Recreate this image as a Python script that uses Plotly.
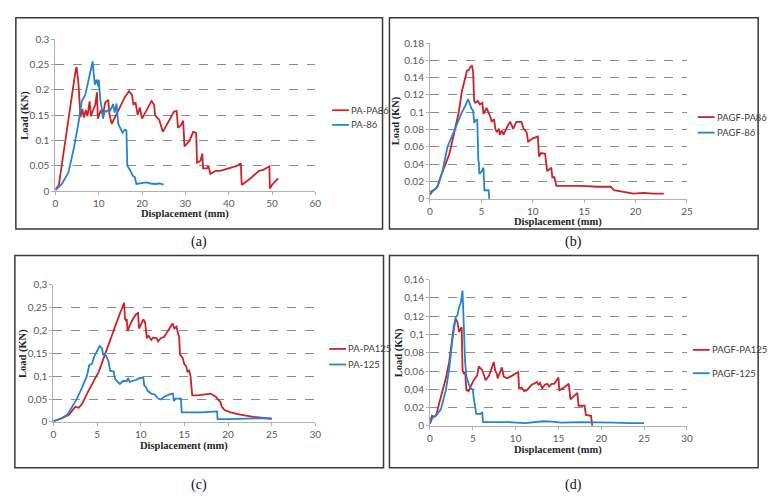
import plotly.graph_objects as go

W, H = 775, 501

# ---------------- DATA ----------------
# (a)
a_pa_pa86_x = [0, 0.8, 4.7, 4.9, 5.3, 5.8, 6.2, 6.6, 7.0, 7.4, 7.9, 8.2, 8.7, 9.2, 9.6, 9.8, 10.5, 11.0, 11.5, 12.2, 12.5, 13.0, 14.0, 16.0, 17.0, 17.7, 18.0, 18.5, 19.0, 19.5, 20.0, 21.0, 22.2, 22.8, 23.0, 24.0, 24.8, 27.4, 28.0, 28.3, 29.0, 29.5, 29.8, 31.0, 31.8, 32.5, 32.7, 33.5, 33.9, 34.1, 35.0, 35.3, 35.8, 37.0, 38.0, 40.0, 42.0, 42.8, 43.0, 45.0, 47.0, 48.0, 49.4, 49.5, 50.0, 51.4]
a_pa_pa86_y = [0.003, 0.012, 0.24, 0.245, 0.215, 0.146, 0.162, 0.145, 0.16, 0.148, 0.177, 0.148, 0.16, 0.17, 0.195, 0.143, 0.16, 0.15, 0.175, 0.18, 0.15, 0.133, 0.15, 0.185, 0.197, 0.19, 0.17, 0.175, 0.15, 0.165, 0.143, 0.16, 0.178, 0.17, 0.15, 0.14, 0.117, 0.157, 0.158, 0.125, 0.13, 0.139, 0.088, 0.1, 0.117, 0.115, 0.056, 0.06, 0.074, 0.045, 0.045, 0.05, 0.034, 0.04, 0.04, 0.045, 0.05, 0.055, 0.012, 0.025, 0.04, 0.042, 0.049, 0.005, 0.012, 0.025]
a_pa86_x = [0, 1.5, 3.0, 4.2, 5.3, 6.1, 6.9, 7.5, 8.0, 8.6, 8.8, 9.1, 9.5, 9.9, 10.0, 10.3, 10.4, 10.8, 11.0, 11.4, 11.8, 12.2, 12.6, 13.0, 13.3, 13.7, 14.1, 14.5, 15.0, 15.5, 16.0, 16.4, 16.6, 17.0, 17.9, 18.3, 18.7, 20.0, 21.0, 22.0, 23.0, 24.0, 25.0]
a_pa86_y = [0.002, 0.014, 0.037, 0.082, 0.133, 0.178, 0.19, 0.213, 0.236, 0.256, 0.236, 0.21, 0.22, 0.207, 0.22, 0.194, 0.178, 0.159, 0.143, 0.159, 0.157, 0.16, 0.159, 0.165, 0.172, 0.155, 0.173, 0.133, 0.125, 0.115, 0.121, 0.12, 0.05, 0.045, 0.03, 0.028, 0.014, 0.015, 0.017, 0.015, 0.014, 0.015, 0.013]

# (b)
b_pagf_pa86_x = [0, 0.26, 0.58, 0.74, 1.2, 1.86, 2.2, 2.5, 2.8, 3.1, 3.5, 3.6, 3.8, 3.9, 4.1, 4.2, 4.3, 4.4, 4.65, 4.85, 5.1, 5.2, 5.5, 5.7, 5.9, 6.0, 6.25, 6.35, 6.5, 6.7, 6.8, 7.0, 7.15, 7.5, 7.8, 8.1, 8.4, 8.9, 9.1, 9.4, 9.55, 10.0, 10.5, 10.6, 10.8, 11.2, 11.4, 11.6, 11.8, 11.9, 12.1, 12.3, 14.7, 16.3, 17.6, 17.9, 18.7, 19.8, 20.8, 21.7, 22.75]
b_pagf_pa86_y = [0.005, 0.009, 0.012, 0.015, 0.031, 0.051, 0.068, 0.083, 0.1, 0.124, 0.141, 0.148, 0.149, 0.152, 0.154, 0.146, 0.113, 0.111, 0.113, 0.109, 0.111, 0.098, 0.105, 0.1, 0.094, 0.089, 0.092, 0.081, 0.077, 0.081, 0.074, 0.079, 0.074, 0.083, 0.089, 0.081, 0.089, 0.089, 0.081, 0.077, 0.066, 0.07, 0.072, 0.049, 0.053, 0.052, 0.032, 0.034, 0.036, 0.025, 0.025, 0.015, 0.015, 0.014, 0.014, 0.01, 0.008, 0.006, 0.007, 0.006, 0.006]
b_pagf86_x = [0, 0.26, 0.5, 0.74, 1.2, 1.7, 2.2, 2.65, 3.1, 3.5, 3.7, 3.85, 4.0, 4.2, 4.3, 4.4, 4.6, 4.7, 4.75, 4.8, 5.05, 5.2, 5.3, 5.55, 5.7, 5.77]
b_pagf86_y = [0.008, 0.01, 0.011, 0.014, 0.031, 0.06, 0.075, 0.088, 0.1, 0.109, 0.115, 0.111, 0.105, 0.102, 0.088, 0.09, 0.092, 0.045, 0.042, 0.029, 0.032, 0.036, 0.01, 0.01, 0.01, 0.0]

# (c)
c_pa_pa125_x = [0, 1.0, 1.8, 2.3, 2.5, 2.9, 3.3, 3.85, 4.4, 5.2, 5.9, 6.7, 7.25, 7.6, 7.9, 8.1, 8.2, 8.3, 8.4, 8.5, 8.75, 9.1, 9.5, 9.7, 9.8, 10.1, 10.3, 10.5, 10.7, 10.9, 11.2, 11.4, 11.8, 12.0, 12.3, 12.7, 13.1, 13.5, 13.65, 13.85, 14.1, 14.3, 14.4, 14.5, 14.8, 15.0, 15.2, 15.35, 15.55, 15.7, 15.9, 16.5, 17.05, 18.0, 18.6, 19.1, 19.3, 19.6, 20.3, 21.4, 22.9, 24.0, 25.0]
c_pa_pa125_y = [0.0015, 0.0085, 0.016, 0.03, 0.033, 0.031, 0.04, 0.062, 0.083, 0.11, 0.147, 0.19, 0.222, 0.236, 0.25, 0.26, 0.225, 0.222, 0.225, 0.198, 0.211, 0.225, 0.236, 0.238, 0.204, 0.215, 0.224, 0.218, 0.183, 0.188, 0.179, 0.184, 0.183, 0.176, 0.183, 0.186, 0.198, 0.208, 0.215, 0.204, 0.208, 0.191, 0.186, 0.147, 0.14, 0.126, 0.122, 0.11, 0.112, 0.101, 0.058, 0.058, 0.06, 0.062, 0.055, 0.044, 0.033, 0.026, 0.021, 0.016, 0.011, 0.0085, 0.007]
c_pa125_x = [0, 1.0, 1.6, 2.15, 2.7, 3.3, 3.85, 4.1, 4.4, 4.7, 5.0, 5.3, 5.55, 5.7, 5.9, 6.1, 6.3, 6.5, 6.9, 7.05, 7.4, 7.6, 8.0, 8.4, 8.55, 8.75, 9.1, 9.5, 9.9, 10.3, 10.4, 10.6, 10.8, 11.2, 11.6, 12.0, 12.3, 12.7, 13.3, 13.7, 13.8, 14.0, 14.6, 14.7, 15.35, 16.9, 18.75, 18.8, 19.9, 21.4, 22.9, 24.0, 25.0]
c_pa125_y = [0.0015, 0.0085, 0.016, 0.033, 0.051, 0.076, 0.101, 0.124, 0.127, 0.144, 0.154, 0.166, 0.161, 0.147, 0.149, 0.14, 0.133, 0.112, 0.11, 0.094, 0.087, 0.083, 0.09, 0.089, 0.096, 0.087, 0.09, 0.092, 0.096, 0.097, 0.08, 0.076, 0.068, 0.062, 0.06, 0.051, 0.049, 0.055, 0.06, 0.062, 0.046, 0.051, 0.051, 0.021, 0.021, 0.021, 0.023, 0.006, 0.006, 0.0065, 0.007, 0.0085, 0.007]

# (d)
d_pagf_pa125_x = [0, 0.23, 0.5, 0.77, 1.08, 1.47, 1.85, 2.24, 2.6, 2.8, 3.0, 3.2, 3.4, 3.6, 3.7, 3.8, 3.97, 4.1, 4.25, 4.5, 4.75, 5.1, 5.5, 5.7, 6.1, 6.3, 6.5, 6.9, 7.25, 7.45, 7.6, 7.8, 7.9, 8.2, 8.4, 8.6, 9.0, 9.6, 10.3, 10.4, 10.7, 11.0, 11.3, 11.9, 12.5, 12.65, 12.85, 13.1, 13.4, 13.7, 13.9, 14.2, 14.5, 15.0, 15.1, 15.5, 16.1, 16.2, 16.4, 16.7, 17.2, 17.35, 17.85, 18.05, 18.2, 18.8, 18.95]
d_pagf_pa125_y = [0.004, 0.011, 0.01, 0.013, 0.025, 0.039, 0.052, 0.07, 0.094, 0.11, 0.117, 0.114, 0.103, 0.107, 0.108, 0.061, 0.057, 0.059, 0.039, 0.038, 0.043, 0.05, 0.055, 0.065, 0.061, 0.055, 0.05, 0.055, 0.066, 0.07, 0.061, 0.057, 0.052, 0.059, 0.064, 0.054, 0.052, 0.055, 0.059, 0.041, 0.042, 0.038, 0.039, 0.045, 0.048, 0.045, 0.047, 0.041, 0.045, 0.046, 0.043, 0.046, 0.046, 0.053, 0.039, 0.041, 0.046, 0.046, 0.029, 0.032, 0.036, 0.022, 0.022, 0.022, 0.012, 0.011, 0.0]
d_pagf125_x = [0, 0.3, 0.7, 1.27, 1.85, 2.24, 2.6, 2.8, 3.0, 3.2, 3.4, 3.6, 3.8, 3.85, 3.97, 4.1, 4.25, 4.35, 4.55, 4.75, 5.0, 5.1, 5.25, 5.4, 5.9, 6.1, 6.2, 7.25, 9.2, 11.1, 12.65, 13.2, 14.2, 15.35, 17.7, 19.6, 21.5, 23.4, 25.0]
d_pagf125_y = [0.002, 0.009, 0.011, 0.018, 0.039, 0.062, 0.093, 0.108, 0.119, 0.121, 0.13, 0.135, 0.148, 0.135, 0.094, 0.07, 0.054, 0.05, 0.045, 0.041, 0.04, 0.031, 0.02, 0.013, 0.013, 0.015, 0.004, 0.004, 0.004, 0.003, 0.004, 0.005, 0.0046, 0.0035, 0.004, 0.004, 0.0035, 0.003, 0.003]

# tick labels
a_xticks = [0, 10, 20, 30, 40, 50, 60]
a_yticks = [0, 0.05, 0.1, 0.15, 0.2, 0.25, 0.3]
a_ylabels = ["0", "0.05", "0.1", "0.15", "0.2", "0.25", "0.3"]
b_xticks = [0, 5, 10, 15, 20, 25]
b_yticks = [0, 0.02, 0.04, 0.06, 0.08, 0.1, 0.12, 0.14, 0.16, 0.18]
b_ylabels = ["0", "0.02", "0.04", "0.06", "0.08", "0.1", "0.12", "0.14", "0.16", "0.18"]
c_xticks = [0, 5, 10, 15, 20, 25, 30]
c_yticks = [0, 0.05, 0.1, 0.15, 0.2, 0.25, 0.3]
c_ylabels = ["0", "0,05", "0,1", "0,15", "0,2", "0,25", "0,3"]
d_xticks = [0, 5, 10, 15, 20, 25, 30]
d_yticks = [0, 0.02, 0.04, 0.06, 0.08, 0.1, 0.12, 0.14, 0.16]
d_ylabels = ["0", "0,02", "0,04", "0,06", "0,08", "0,1", "0,12", "0,14", "0,16"]

RED = "#CC2229"
BLUE = "#2683CF"
AXC = "#b0b0b0"
TICKFONT = dict(family="Lato, Liberation Sans, sans-serif", size=10, color="#595959")
TITLEFONT = dict(family="Liberation Serif, serif", size=10.5, color="#262626")
LEGFONT = dict(family="Lato, Liberation Sans, sans-serif", size=9.5, color="#404040")


def px(x):
    return x / W


def py(y):
    return 1 - y / H


panels = [
    dict(xd=(53, 316), yd=(189, 33), xmax=60, ymax=0.3, xt=a_xticks, yt=a_yticks, yl=a_ylabels,
         series=[("PA-PA86", a_pa_pa86_x, a_pa_pa86_y, RED), ("PA-86", a_pa86_x, a_pa86_y, BLUE)],
         frame=(13, 11, 384, 228), leg=(333, 106, 121), ytx=22, xty=213, lab="(a)", laby=241),
    dict(xd=(432, 692), yd=(197, 37), xmax=25, ymax=0.18, xt=b_xticks, yt=b_yticks, yl=b_ylabels,
         series=[("PAGF-PA86", b_pagf_pa86_x, b_pagf_pa86_y, RED), ("PAGF-86", b_pagf86_x, b_pagf86_y, BLUE)],
         frame=(391, 11, 764, 228), leg=(703, 113, 129), ytx=398, xty=221, lab="(b)", laby=241),
    dict(xd=(51, 316), yd=(426, 285), xmax=30, ymax=0.3, xt=c_xticks, yt=c_yticks, yl=c_ylabels,
         series=[("PA-PA125", c_pa_pa125_x, c_pa_pa125_y, RED), ("PA-125", c_pa125_x, c_pa125_y, BLUE)],
         frame=(12, 255, 385, 473), leg=(330, 351, 367), ytx=21, xty=451, lab="(c)", laby=491),
    dict(xd=(432, 692), yd=(430, 280), xmax=30, ymax=0.16, xt=d_xticks, yt=d_yticks, yl=d_ylabels,
         series=[("PAGF-PA125", d_pagf_pa125_x, d_pagf_pa125_y, RED), ("PAGF-125", d_pagf125_x, d_pagf125_y, BLUE)],
         frame=(391, 255, 764, 473), leg=(698, 352, 376), ytx=400, xty=455, lab="(d)", laby=491),
]

fig = go.Figure()
shapes = []
annotations = []
layout = {}

for i, p in enumerate(panels, start=1):
    xa = "x" if i == 1 else f"x{i}"
    ya = "y" if i == 1 else f"y{i}"
    for name, xs, ys, col in p["series"]:
        fig.add_trace(go.Scatter(x=xs, y=ys, mode="lines", name=name, showlegend=False,
                                 line=dict(color=col, width=1.8), xaxis=xa, yaxis=ya))
    xkey = "xaxis" if i == 1 else f"xaxis{i}"
    ykey = "yaxis" if i == 1 else f"yaxis{i}"
    layout[xkey] = dict(domain=[px(p["xd"][0]), px(p["xd"][1])], range=[0, p["xmax"]],
                        anchor=ya, tickvals=p["xt"], ticktext=[str(v) for v in p["xt"]],
                        showgrid=False, zeroline=False, showline=True, linecolor=AXC,
                        linewidth=1, ticks="outside", ticklen=3, tickcolor=AXC,
                        tickfont=TICKFONT, fixedrange=True)
    layout[ykey] = dict(domain=[py(p["yd"][0]), py(p["yd"][1])], range=[0, p["ymax"]],
                        anchor=xa, tickvals=p["yt"], ticktext=p["yl"],
                        showgrid=True, gridcolor="#8c8c8c", griddash="dash", gridwidth=1,
                        zeroline=False, showline=True, linecolor=AXC, linewidth=1,
                        ticks="outside", ticklen=3, tickcolor=AXC,
                        tickfont=TICKFONT, fixedrange=True)
    fx0, fy0, fx1, fy1 = p["frame"]
    shapes.append(dict(type="rect", xref="paper", yref="paper", x0=px(fx0), x1=px(fx1),
                       y0=py(fy1), y1=py(fy0), line=dict(color="#3a3a3a", width=1.5)))
    lx, ly1, ly2 = p["leg"]
    for (name, xs, ys, col), ly in zip(p["series"], (ly1, ly2)):
        shapes.append(dict(type="line", xref="paper", yref="paper", x0=px(lx), x1=px(lx + 17),
                           y0=py(ly), y1=py(ly), line=dict(color=col, width=1.8)))
        annotations.append(dict(text=name, xref="paper", yref="paper", x=px(lx + 17), y=py(ly),
                                xanchor="left", yanchor="middle", showarrow=False, font=LEGFONT))
    xc = (p["xd"][0] + p["xd"][1]) / 2
    annotations.append(dict(text="<b>Displacement (mm)</b>", xref="paper", yref="paper",
                            x=px(xc), y=py(p["xty"]), xanchor="center", yanchor="middle",
                            showarrow=False, font=TITLEFONT))
    yc = (p["yd"][0] + p["yd"][1]) / 2
    annotations.append(dict(text="<b>Load (KN)</b>", xref="paper", yref="paper",
                            x=px(p["ytx"]), y=py(yc), xanchor="center", yanchor="middle",
                            textangle=-90, showarrow=False, font=TITLEFONT))
    flx = (fx0 + fx1) / 2
    annotations.append(dict(text=p["lab"], xref="paper", yref="paper", x=px(flx), y=py(p["laby"]),
                            xanchor="center", yanchor="middle", showarrow=False,
                            font=dict(family="Liberation Serif, serif", size=14, color="#111111")))

fig.update_layout(width=W, height=H, margin=dict(l=0, r=0, t=0, b=0),
                  paper_bgcolor="white", plot_bgcolor="white",
                  shapes=shapes, annotations=annotations, showlegend=False, **layout)

fig.write_html("out.html", config={"displayModeBar": False},
               post_script="document.body.style.margin='0px';document.body.style.overflow='hidden';")
